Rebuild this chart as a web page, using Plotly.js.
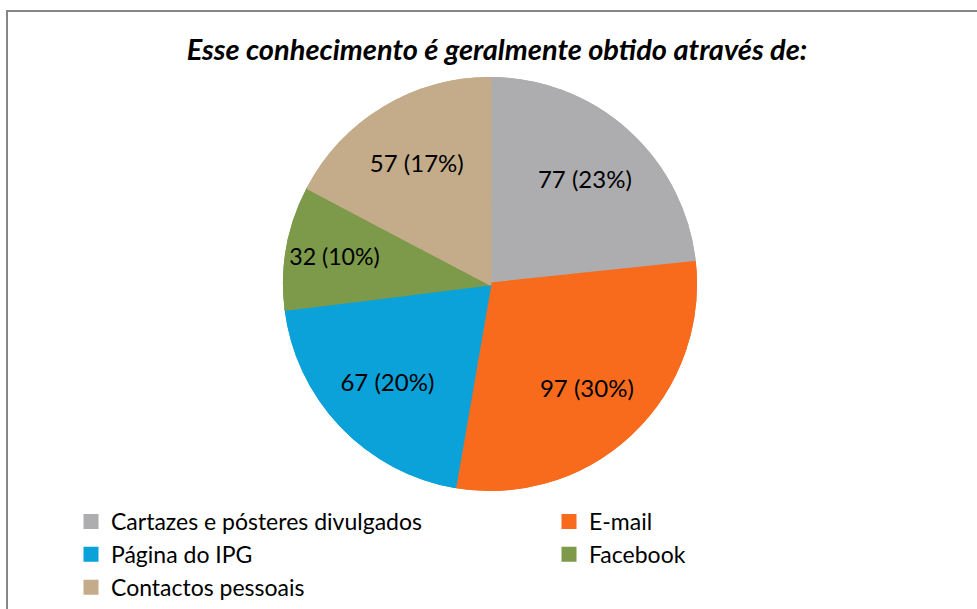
<!DOCTYPE html>
<html>
<head>
<meta charset="utf-8">
<script src="https://cdn.plot.ly/plotly-3.0.1.min.js"></script>
<style>
  html, body { margin: 0; padding: 0; background: #ffffff; overflow: hidden; }
  #wrap { position: relative; width: 977px; height: 609px; }
  #frame { position: absolute; left: 6px; top: 10px; width: 990px; height: 620px;
           border-left: 2px solid #868686; border-top: 2px solid #868686; box-sizing: border-box; pointer-events: none; }
  #chart { position: absolute; left: 0; top: 0; width: 977px; height: 609px; }
</style>
</head>
<body>
<div id="wrap">
  <div id="chart"></div>
  <div id="frame"></div>
</div>
<script>
const categories = ["Cartazes e pósteres divulgados", "E-mail", "Página do IPG", "Facebook", "Contactos pessoais"];
const values = [77, 97, 67, 32, 57];
const percentLabels = ["23%", "30%", "20%", "10%", "17%"];
const colors = ["#ADADAF", "#F86B1D", "#0AA2D9", "#7C9A4A", "#C4AC8A"];
const titleText = "Esse conhecimento é geralmente obtido através de:";

const labelTexts = values.map((v, i) => v + " (" + percentLabels[i] + ")");

const W = 977, H = 609;
const pieDomain = { x: [284.5 / W, 695.5 / W], y: [(H - 489.5) / H, (H - 78.5) / H] };

// full pie (base, no labels)
const basePie = {
  type: "pie",
  labels: categories,
  values: values,
  textinfo: "none",
  sort: false,
  direction: "clockwise",
  rotation: 0,
  showlegend: false,
  marker: { colors: colors, line: { width: 3, color: colors } },
  domain: pieDomain,
  hoverinfo: "skip"
};

// same slices drawn as a ring on top, so that labels sit further out like the original
const labelPie = {
  type: "pie",
  labels: categories,
  values: values,
  text: labelTexts,
  textinfo: "text",
  textposition: "inside",
  insidetextorientation: "horizontal",
  textfont: { family: "Lato, 'Open Sans', sans-serif", size: 24, color: "#000000" },
  hole: 0.38,
  sort: false,
  direction: "clockwise",
  rotation: 0,
  marker: { colors: colors, line: { width: 3, color: colors } },
  domain: pieDomain,
  hoverinfo: "label+value+percent"
};

const layout = {
  width: W,
  height: H,
  margin: { l: 0, r: 0, t: 0, b: 0, autoexpand: false },
  paper_bgcolor: "#ffffff",
  title: {
    text: "<b><i>" + titleText + "</i></b>",
    font: { family: "Lato, 'Open Sans', sans-serif", size: 29, color: "#000000" },
    x: 497 / W, xanchor: "center",
    y: (H - 50) / H, yanchor: "middle"
  },
  showlegend: true,
  legend: {
    orientation: "h",
    x: 71 / W, xanchor: "left",
    y: (H - 500) / H, yanchor: "top",
    entrywidth: 433,
    entrywidthmode: "pixels",
    traceorder: "normal",
    font: { family: "Lato, 'Open Sans', sans-serif", size: 23, color: "#000000" },
    bgcolor: "rgba(0,0,0,0)"
  }
};

Plotly.newPlot("chart", [basePie, labelPie], layout, { displayModeBar: false, staticPlot: true });
</script>
</body>
</html>
